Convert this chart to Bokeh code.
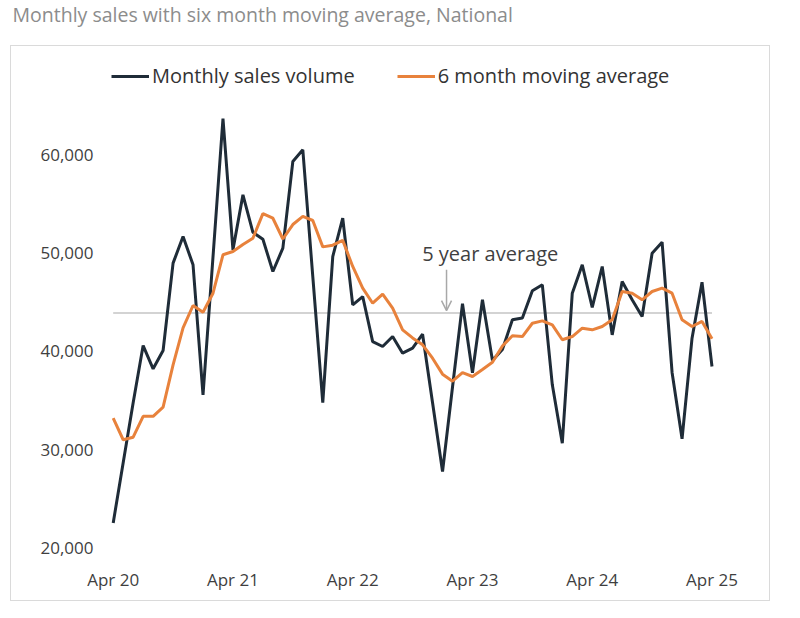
from bokeh.plotting import figure
from bokeh.layouts import column
from bokeh.models import (ColumnDataSource, Legend, LegendItem, FixedTicker,
                          NumeralTickFormatter, Label, Arrow, OpenHead, Range1d)
from bokeh.embed import file_html
from bokeh.resources import INLINE

title_text = "Monthly sales with six month moving average, National"

# month index 0 = Apr 2020 ... 60 = Apr 2025
months = list(range(61))

monthly_sales = [
    22600, 28700, 34800, 40600, 38240, 40100, 48970, 51680, 48800, 35600,
    49600, 63650, 50320, 55900, 52100, 51400, 48120, 50490, 59290, 60480,
    47600, 34800, 49640, 53530, 44740, 45580, 41010, 40510, 41520, 39830,
    40340, 41760, 34790, 27820, 36400, 44850, 37850, 45250, 39100, 40200,
    43220, 43400, 46160, 46770, 36620, 30690, 45920, 48800, 44470, 48630,
    41690, 47110, 45250, 43550, 49980, 51100, 37870, 31140, 41350, 47040,
    38480,
]

moving_avg = [
    33230, 31040, 31300, 33420, 33420, 34350, 38650, 42400, 44670, 43990,
    45920, 49820, 50150, 50860, 51500, 54000, 53530, 51420, 52890, 53710,
    53300, 50620, 50790, 51280, 48630, 46430, 44900, 45820, 44400, 42200,
    41380, 40680, 39320, 37700, 36990, 37850, 37460, 38170, 38900, 40550,
    41600, 41520, 42870, 43110, 42710, 41190, 41520, 42370, 42200, 42540,
    43220, 46090, 45920, 45250, 46090, 46430, 45920, 43220, 42540, 43050,
    41290,
]

five_year_avg = 43900
avg_label = "5 year average"

tick_months = [0, 12, 24, 36, 48, 60]
tick_labels = ["Apr 20", "Apr 21", "Apr 22", "Apr 23", "Apr 24", "Apr 25"]
y_ticks = [20000, 30000, 40000, 50000, 60000]

FONT = "Open Sans"
DARK = "#1f2c38"
ORANGE = "#e8823c"

src = ColumnDataSource(dict(month=months, sales=monthly_sales, avg=moving_avg))
avg_src = ColumnDataSource(dict(month=[months[0], months[-1]],
                                value=[five_year_avg, five_year_avg]))

# ---- title strip ----
tf = figure(width=784, height=45, output_backend="svg", toolbar_location=None,
            x_range=Range1d(0, 784), y_range=Range1d(45, 0), min_border=0,
            frame_align=False)
tf.axis.visible = False
tf.grid.visible = False
tf.outline_line_color = None
tf.title.visible = False
tf.add_layout(Label(x=12, y=14, text=title_text, text_font=FONT,
                    text_font_size="19.5px", text_color="#8c8c8c",
                    text_baseline="middle"))

# ---- main chart (boxed) ----
p = figure(width=760, height=556, output_backend="svg", toolbar_location=None,
           x_range=Range1d(-1.573, 62.956), y_range=Range1d(18680, 70863),
           min_border_left=86, min_border_right=30, min_border_top=1,
           min_border_bottom=41, margin=(0, 0, 0, 10), frame_align=False,
           styles={"border": "1px solid #dadada"})
p.title.visible = False
p.outline_line_color = None
p.xgrid.visible = False
p.ygrid.visible = False

p.line("month", "value", source=avg_src, line_color="#c4c4c4", line_width=1.5)
r1 = p.line("month", "sales", source=src, line_color=DARK, line_width=3)
r2 = p.line("month", "avg", source=src, line_color=ORANGE, line_width=3)

for ax in (p.xaxis[0], p.yaxis[0]):
    ax.axis_line_color = None
    ax.major_tick_line_color = None
    ax.minor_tick_line_color = None
    ax.major_tick_out = 0
    ax.minor_tick_out = 0
    ax.major_label_text_font = FONT
    ax.major_label_text_font_size = "17px"
    ax.major_label_text_color = "#3f3f3f"

p.xaxis.ticker = FixedTicker(ticks=tick_months)
p.xaxis.major_label_overrides = {m: l for m, l in zip(tick_months, tick_labels)}
p.xaxis.major_label_standoff = 6
p.yaxis.ticker = FixedTicker(ticks=y_ticks)
p.yaxis.formatter = NumeralTickFormatter(format="0,0")
p.yaxis.major_label_standoff = 4

p.add_layout(Label(x=30.96, y=49980, text=avg_label, text_font=FONT,
                   text_font_size="20px", text_color="#3f3f3f",
                   text_baseline="middle"))
p.add_layout(Arrow(end=OpenHead(size=10, line_color="#a8a8a8", line_width=1.5),
                   x_start=33.4, y_start=48300, x_end=33.4, y_end=44150,
                   line_color="#a8a8a8", line_width=1.5))

legend = Legend(items=[LegendItem(label="Monthly sales volume", renderers=[r1]),
                       LegendItem(label="6 month moving average", renderers=[r2])],
                orientation="horizontal", location=(14, 472),
                glyph_width=38, glyph_height=20, label_standoff=3, spacing=42,
                padding=0, margin=0, border_line_color=None,
                background_fill_alpha=0, label_text_font=FONT,
                label_text_font_size="20px", label_text_color="#333333")
p.add_layout(legend)

layout = column(tf, p, spacing=0)
open("out.html", "w").write(file_html(layout, INLINE))
